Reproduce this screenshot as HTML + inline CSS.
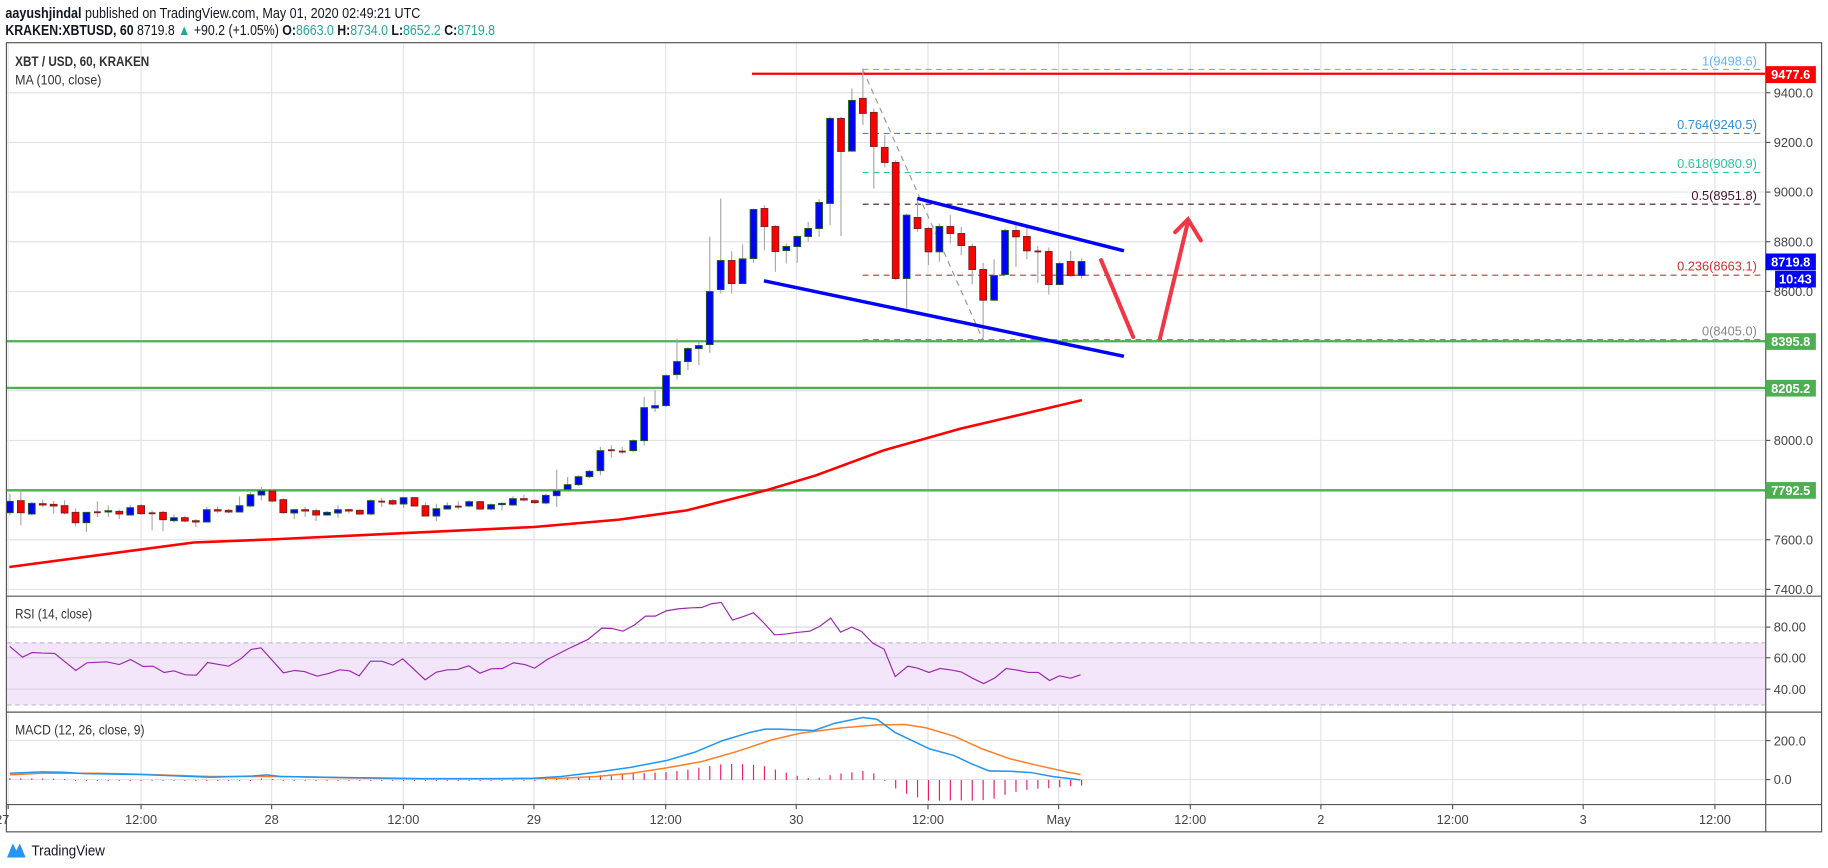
<!DOCTYPE html>
<html><head><meta charset="utf-8"><style>
html,body{margin:0;padding:0;background:#fff;overflow:hidden}
svg{display:block}
text{font-family:"Liberation Sans",sans-serif}
</style></head><body>
<svg id="s" xmlns="http://www.w3.org/2000/svg" width="1828" height="868" viewBox="0 0 1568 744" preserveAspectRatio="none">
<rect width="1568" height="744" fill="#fff"/>
<g id="grid" stroke="#e1e3ea" stroke-width="1"></g>
<rect x="6" y="551" width="1508" height="53.2" fill="#f3e6fb"/>
<line x1="6" y1="551" x2="1514" y2="551" stroke="#c9b3d6" stroke-dasharray="4,3"/>
<line x1="6" y1="604.2" x2="1514" y2="604.2" stroke="#c9b3d6" stroke-dasharray="4,3"/>
<g id="hgrid2" stroke="#d8d4e0"></g>
<line x1="740" y1="59.5" x2="1514" y2="59.5" stroke="#64b5f6" stroke-dasharray="5,4"/>
<line x1="740" y1="114.4" x2="1514" y2="114.4" stroke="#2e8fd6" stroke-dasharray="5,4"/>
<line x1="740" y1="147.8" x2="1514" y2="147.8" stroke="#26c6a0" stroke-dasharray="5,4"/>
<line x1="740" y1="175" x2="1514" y2="175" stroke="#4a1030" stroke-dasharray="5,4"/>
<line x1="740" y1="235.9" x2="1514" y2="235.9" stroke="#d32f2f" stroke-dasharray="5,4"/>
<line x1="740" y1="291.1" x2="1514" y2="291.1" stroke="#888" stroke-dasharray="5,4"/>
<line x1="740" y1="59.5" x2="843" y2="291" stroke="#999" stroke-dasharray="5,4"/>
<g font-size="11" text-anchor="end">
<text x="1507" y="56" fill="#64b5f6">1(9498.6)</text>
<text x="1507" y="110.5" fill="#2e8fd6">0.764(9240.5)</text>
<text x="1507" y="144" fill="#26c6a0">0.618(9080.9)</text>
<text x="1507" y="171.5" fill="#4a1030">0.5(8951.8)</text>
<text x="1507" y="232" fill="#d32f2f">0.236(8663.1)</text>
<text x="1507" y="287.5" fill="#888">0(8405.0)</text>
</g>
<line x1="645" y1="63.2" x2="1514" y2="63.2" stroke="#f00" stroke-width="2"/>
<line x1="6" y1="292.5" x2="1514" y2="292.5" stroke="#4caf50" stroke-width="2"/>
<line x1="6" y1="332.5" x2="1514" y2="332.5" stroke="#4caf50" stroke-width="2"/>
<line x1="6" y1="420.3" x2="1514" y2="420.3" stroke="#4caf50" stroke-width="2"/>
<polyline fill="none" stroke="#f00" stroke-width="2.2" points="8,486 166,465 233.6,462.3 458,451.7 531,445.4 589,437.5 657,420.3 700,407.4 758,386 824,367.4 928,343"/>
<g id="candles"></g>
<line x1="786.8" y1="170.1" x2="964.1" y2="215" stroke="#0000ff" stroke-width="3"/>
<line x1="655.3" y1="240.7" x2="964.1" y2="305.4" stroke="#0000ff" stroke-width="3"/>
<g stroke="#f23645" stroke-width="3.5" stroke-linecap="round" fill="none">
<line x1="944.5" y1="223" x2="972" y2="288.8"/>
<line x1="995" y1="290" x2="1019" y2="190"/>
<polyline points="1008,199 1019,188 1030,206"/>
</g>
<polyline id="rsi" fill="none" stroke="#9c27b0" stroke-width="1"/>
<g id="hist" stroke="#e91e63" stroke-width="1"></g>
<polyline id="sig" fill="none" stroke="#ff7f27" stroke-width="1.3"/>
<polyline id="mac" fill="none" stroke="#2196f3" stroke-width="1.3"/>
<rect x="5.5" y="36.6" width="1557" height="676.4" fill="none" stroke="#555" stroke-width="1"/>
<line x1="1514.6" y1="36.6" x2="1514.6" y2="713" stroke="#555"/>
<line x1="5.5" y1="511" x2="1562.5" y2="511" stroke="#555"/>
<line x1="5.5" y1="610.4" x2="1562.5" y2="610.4" stroke="#555"/>
<line x1="5.5" y1="689.6" x2="1562.5" y2="689.6" stroke="#555"/>
<g id="axis" font-size="11" fill="#444"></g>
<rect x="1514.6" y="56.7" width="43" height="14.5" fill="#f00"/>
<text x="1536" y="67.8" font-size="11" font-weight="bold" fill="#fff" text-anchor="middle">9477.6</text>
<rect x="1514.6" y="217.3" width="43" height="14.3" fill="#0000ff"/>
<text x="1536" y="228.3" font-size="11" font-weight="bold" fill="#fff" text-anchor="middle">8719.8</text>
<rect x="1522.6" y="232.1" width="35" height="14.3" fill="#0000ff"/>
<text x="1540" y="243.2" font-size="11" font-weight="bold" fill="#fff" text-anchor="middle">10:43</text>
<rect x="1514.6" y="285.6" width="43" height="14.3" fill="#4caf50"/>
<text x="1536" y="296.7" font-size="11" font-weight="bold" fill="#fff" text-anchor="middle">8395.8</text>
<rect x="1514.6" y="325.6" width="43" height="14.3" fill="#4caf50"/>
<text x="1536" y="336.7" font-size="11" font-weight="bold" fill="#fff" text-anchor="middle">8205.2</text>
<rect x="1514.6" y="413.2" width="43" height="14.3" fill="#4caf50"/>
<text x="1536" y="424.3" font-size="11" font-weight="bold" fill="#fff" text-anchor="middle">7792.5</text>
<text x="4.6" y="15.5" font-size="12.5" fill="#131722" textLength="356" lengthAdjust="spacingAndGlyphs"><tspan font-weight="bold">aayushjindal</tspan> published on TradingView.com, May 01, 2020 02:49:21 UTC</text>
<text x="4.6" y="30" font-size="12.5" fill="#131722" textLength="420" lengthAdjust="spacingAndGlyphs"><tspan font-weight="bold">KRAKEN:XBTUSD, 60</tspan> 8719.8 <tspan fill="#26a69a">▲</tspan> +90.2 (+1.05%) <tspan font-weight="bold">O:</tspan><tspan fill="#26a69a">8663.0</tspan> <tspan font-weight="bold">H:</tspan><tspan fill="#26a69a">8734.0</tspan> <tspan font-weight="bold">L:</tspan><tspan fill="#26a69a">8652.2</tspan> <tspan font-weight="bold">C:</tspan><tspan fill="#26a69a">8719.8</tspan></text>
<text x="13" y="56.5" font-size="11.5" font-weight="bold" fill="#333" textLength="115" lengthAdjust="spacingAndGlyphs">XBT / USD, 60, KRAKEN</text>
<text x="13" y="72.5" font-size="11.5" fill="#333" textLength="74" lengthAdjust="spacingAndGlyphs">MA (100, close)</text>
<text x="13" y="530" font-size="11.5" fill="#333" textLength="66" lengthAdjust="spacingAndGlyphs">RSI (14, close)</text>
<text x="13" y="629.5" font-size="11.5" fill="#333" textLength="111" lengthAdjust="spacingAndGlyphs">MACD (12, 26, close, 9)</text>
<g transform="translate(6,721)">
<path d="M0,14 L5,2 L8,8 L11,2 L16,14 Z" fill="#2196f3"/>
</g>
<text x="27" y="733.5" font-size="12.5" fill="#131722" textLength="63" lengthAdjust="spacingAndGlyphs">TradingView</text>
</svg>
<script>
var NS="http://www.w3.org/2000/svg",s=document.getElementById('s');
function el(p,t,a){var e=document.createElementNS(NS,t);for(var k in a)e.setAttribute(k,a[k]);p.appendChild(e);return e;}
var vx=[7,121,233,346,458,571,683,796,908,1021,1133,1246,1358,1471];
var g=document.getElementById('grid');
vx.forEach(function(x){el(g,'line',{x1:x,y1:37,x2:x,y2:689.6});});
function py(p){return 79.5+(9400-p)*0.21285;}
for(var p=7400;p<=9400;p+=200){el(g,'line',{x1:6,y1:py(p),x2:1514,y2:py(p)});}
var h2=document.getElementById('hgrid2');
[537.5,563.8,590.7].forEach(function(y){el(h2,'line',{x1:6,y1:y,x2:1514,y2:y});});
[634.8,668.2].forEach(function(y){el(g,'line',{x1:6,y1:y,x2:1514,y2:y});});
var ax=document.getElementById('axis');
function lab(x,y,t,anc){var e=el(ax,'text',{x:x,y:y,'text-anchor':anc||'start'});e.textContent=t;}
function tick(y){el(ax,'line',{x1:1514.6,y1:y,x2:1518.6,y2:y,stroke:'#555'});}
[9400,9200,9000,8800,8600,8000,7600,7400].forEach(function(p){var y=py(p);tick(y);lab(1521.5,y+4,p.toFixed(1));});
[[537.5,'80.00'],[563.8,'60.00'],[590.7,'40.00'],[634.8,'200.0'],[668.2,'0.0']].forEach(function(a){tick(a[0]);lab(1521.5,a[0]+4,a[1]);});
var tl=['27','12:00','28','12:00','29','12:00','30','12:00','May','12:00','2','12:00','3','12:00'];
vx.forEach(function(x,i){el(ax,'line',{x1:x,y1:689.6,x2:x,y2:693.6,stroke:'#555'});lab(i==0?8:x,706.5,tl[i],i==0?'end':'middle');});
var c1=[[183,217,'b',160,225],[181,217,'r',150,255],[189,221,'b'],[190,194,'r',178,200],[192,197,'r',182,220],[196,218,'r',180,222],[216,247,'r',205,258],[216,247,'b',215,275],[213,215,'r',183,230],[211,215,'b',195,230],[213,221,'r',208,236],[202,224,'b',195,226],[196,220,'r'],[216,219,'r',210,270],[216,238,'r',212,272],[232,241,'b',222,246],[232,242,'r',226,246],[241,245,'r',236,260],[208,245,'b',200,246],[208,212,'r',198,218],[210,215,'r'],[196,215,'b',168,216],[163,197,'b',155,200],[152,164,'b',140,180],[152,182,'r'],[178,217,'r'],[208,218,'b',205,236],[208,212,'r',200,230],[211,224,'r',205,242],[216,224,'b',212,226],[208,218,'b',195,233],[208,212,'r',205,220],[210,221,'r',207,224],[181,221,'b'],[181,183,'r',172,200],[181,191,'r'],[172,191,'b',170,203],[172,197,'r',170,199],[196,227,'r',186,228],[205,227,'b',190,242],[196,206,'b',186,208],[196,198,'b',183,208],[184,197,'b'],[184,206,'r',182,208],[193,206,'b'],[189,193,'b',186,210],[175,194,'b',168,196],[175,179,'r',163,183],[181,187,'r']];
var c2=[[945,968,'b'],[932,946,'b',868,980],[913,927,'b',890,930],[889,913,'b'],[873,889,'b'],[811,871,'b',800,885],[807,809,'r',795,832],[811,813,'r',800,822],[781,811,'b'],[682,781,'b',650,795],[676,683,'b',630,695],[586,676,'b'],[544,583,'b',475,598],[505,544,'b',500,570],[496,505,'b',485,555],[334,493,'b',170,518],[241,328,'b',55,340],[241,310,'r',213,340],[236,310,'b',193,312],[88,235,'b',85,248],[85,139,'r',75,210],[139,214,'r',135,275],[199,211,'b',190,250],[169,199,'b',165,248],[145,169,'b',125,185],[67,145,'b',57,170]];
var c3=[[175,430,'b',170,495],[175,274,'r',170,528],[121,273,'b',85,275],[115,160,'r',25,195],[157,259,'r',145,385],[262,307,'r',225,322],[307,655,'r',300,660],[465,655,'b',460,745],[472,505,'r',420,515],[505,575,'r',500,615],[499,575,'b',490,605],[499,520,'r',465,550],[520,556,'r',500,585],[559,628,'r',550,672],[628,720,'r',608,835],[646,720,'b',597,722],[511,643,'b',505,645],[511,530,'r',485,620],[529,572,'r',500,597],[571,573,'r',558,668],[574,673,'r',562,703],[610,673,'b',605,675],[604,646,'r',572,650],[604,646,'b',595,655]];
var cg=document.getElementById('candles'),all=[];
c1.forEach(function(c){all.push([c,0.2859,377.4]);});
c2.forEach(function(c){all.push([c,0.2859,154.4]);});
c3.forEach(function(c){all.push([c,0.2859,51.47]);});
all.forEach(function(a,i){
 var c=a[0],k=a[1],o=a[2],x=8.5+9.38*i;
 var t=c[0]*k+o,b=c[1]*k+o,wt=(c[3]!==undefined?c[3]:c[0]-4)*k+o,wb=(c[4]!==undefined?c[4]:c[1]+4)*k+o;
 el(cg,'line',{x1:x,y1:wt,x2:x,y2:wb,stroke:'#aaa','stroke-width':1});
 var dash=(c[1]-c[0])<4;
 if(dash){el(cg,'rect',{x:x-2.9,y:t,width:5.8,height:1.6,fill:'#7b1f1f'});}
 else el(cg,'rect',{x:x-2.9,y:t,width:5.8,height:b-t,fill:c[2]=='b'?'#0000ff':'#ff0000',stroke:c[2]=='b'?'#1b5e20':'#7b1f1f','stroke-width':0.8});
});
var R=[[14,168],[32,200],[46,186],[60,188],[78,189],[108,240],[124,217],[152,214],[170,222],[186,207],[204,228],[218,227],[234,246],[248,241],[264,253],[280,254],[296,216],[326,227],[344,204],[358,177],[372,172],[404,247],[420,240],[434,243],[452,257],[468,249],[484,238],[498,241],[512,256],[528,212],[544,212],[560,224],[574,205],[606,268],[622,245],[638,238],[652,237],[668,226],[684,248],[700,235],[716,234],[732,217],[748,222],[762,233],[780,207],[810,175],[838,147],[858,113],[872,114],[888,122],[904,104],[920,77],[934,77],[950,61],[968,55],[986,52],[1000,51],[1014,40],[1028,36],[1044,89],[1060,78],[1074,67],[1088,96],[1104,133],[1120,131],[1136,126],[1154,122],[1168,108],[1184,83],[1198,125],[1214,110],[1228,123],[1244,158],[1260,176],[1276,258],[1294,227],[1308,233],[1324,246],[1340,234],[1354,238],[1370,244],[1386,263],[1402,279],[1418,262],[1434,234],[1450,239],[1466,246],[1480,246],[1496,270],[1510,256],[1526,263],[1540,253]];
document.getElementById('rsi').setAttribute('points',R.map(function(p){return (p[0]*0.6018).toFixed(1)+','+((p[1]/3+590)/1.1658).toFixed(1);}).join(' '));
var M=[[14,218],[60,214],[90,215],[120,219],[200,222],[300,230],[360,226],[380,223],[400,228],[500,231],[600,234],[700,234],[760,233],[800,228],[850,215],[900,200],[950,180],[990,155],[1030,120],[1070,95],[1090,86],[1110,86],[1160,90],[1190,68],[1230,51],[1250,56],[1275,95],[1300,120],[1325,145],[1360,165],[1385,190],[1410,211],[1440,212],[1470,216],[1500,228],[1540,238]];
var S=[[14,223],[60,218],[140,218],[200,221],[300,228],[400,228],[500,232],[600,235],[700,235],[800,233],[850,228],[900,218],[950,202],[1000,183],[1050,153],[1100,118],[1140,98],[1200,82],[1250,73],[1290,72],[1320,82],[1360,107],[1400,145],[1440,175],[1480,195],[1520,214],[1540,222]];
function pts(A){return A.map(function(p){return (p[0]*0.6018).toFixed(1)+','+((p[1]/3+700)/1.1658).toFixed(1);}).join(' ');}
document.getElementById('mac').setAttribute('points',pts(M));
document.getElementById('sig').setAttribute('points',pts(S));
function interp(A,x){for(var i=0;i<A.length-1;i++){if(x>=A[i][0]&&x<=A[i+1][0]){var t=(x-A[i][0])/(A[i+1][0]-A[i][0]);return A[i][1]+t*(A[i+1][1]-A[i][1]);}}return A[A.length-1][1];}
var hg=document.getElementById('hist');
for(var i=0;i<99;i++){var x=8.5+9.38*i,zx=x/0.6018;var d=1.05*(interp(S,zx)-interp(M,zx));var y0=(238/3+700)/1.1658,y1=((238-d)/3+700)/1.1658;
 if(Math.abs(y1-y0)<0.6)y1=y0+0.8;el(hg,'line',{x1:x,y1:y0,x2:x,y2:y1});}
</script>
</body></html>
